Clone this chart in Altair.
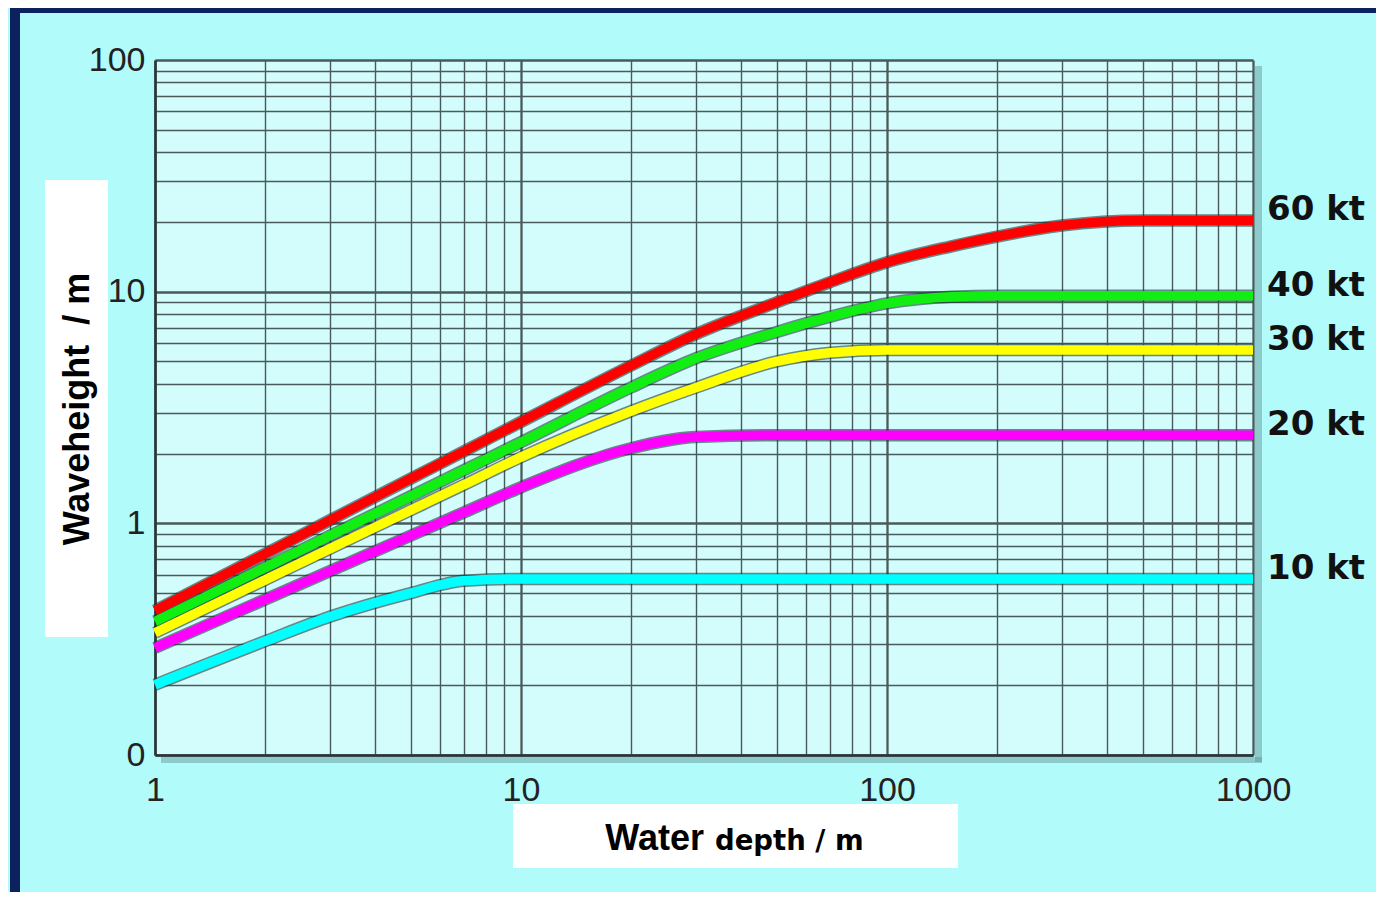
import altair as alt
import pandas as pd

# ---- data ----
depth = [1, 2, 3, 5, 7, 10, 20, 30, 50, 70, 100, 150, 200, 300, 500, 1000]
h_60kt = [0.42, 0.738, 1.03, 1.56, 2.05, 2.74, 4.8, 6.55, 9.0, 11.0, 13.4, 15.7, 17.3, 19.3, 20.3, 20.3]
h_40kt = [0.377, 0.644, 0.883, 1.31, 1.70, 2.24, 3.86, 5.15, 6.7, 7.8, 8.9, 9.5, 9.6, 9.6, 9.6, 9.6]
h_30kt = [0.337, 0.570, 0.776, 1.14, 1.47, 1.93, 3.05, 3.85, 5.0, 5.45, 5.6, 5.6, 5.6, 5.6, 5.6, 5.6]
h_20kt = [0.29, 0.469, 0.621, 0.885, 1.117, 1.43, 2.11, 2.36, 2.4, 2.4, 2.4, 2.4, 2.4, 2.4, 2.4, 2.4]
h_10kt = [0.201, 0.31, 0.395, 0.50, 0.565, 0.575, 0.575, 0.575, 0.575, 0.575, 0.575, 0.575, 0.575, 0.575, 0.575, 0.575]

speeds = ["10 kt", "20 kt", "30 kt", "40 kt", "60 kt"]
colors = ["#00ffff", "#ff00ff", "#ffff00", "#11ee11", "#ff0000"]
series = [h_10kt, h_20kt, h_30kt, h_40kt, h_60kt]

x_ticks = [round(m * 10 ** e, 4) for e in (0, 1, 2) for m in range(1, 10)] + [1000]
y_ticks = [round(m * 10 ** e, 4) for e in (-1, 0, 1) for m in range(1, 10)] + [100]

x_title_main = "Water"
x_title_rest = "depth / m"
y_title = "Waveheight\u00a0\u00a0/ m"

rows = []
for s, hs in zip(speeds, series):
    for d, h in zip(depth, hs):
        rows.append({"speed": s, "depth": d, "height": h})
df = pd.DataFrame(rows)
df_lab = pd.DataFrame({"speed": speeds, "depth": [depth[-1]] * len(speeds),
                       "height": [hs[-1] for hs in series]})
one = pd.DataFrame({"k": [0]})

FONT = "Liberation Sans"
W, H = 1098, 695

grid_w = {"condition": {"test": "indexof([0.1,1,10,100,1000], datum.value) >= 0", "value": 2.3}, "value": 1.4}

x_scale = alt.Scale(type="log", domain=[1, 1000], nice=False)
y_scale = alt.Scale(type="log", domain=[0.1, 100], nice=False)

x_axis = alt.Axis(values=x_ticks, grid=True, gridColor="#4a5959", gridWidth=grid_w,
                  ticks=False, domain=True, domainColor="#2a3535", domainWidth=2.5,
                  labelExpr="indexof([1,10,100,1000], datum.value) >= 0 ? toString(datum.value) : ''",
                  labelFont=FONT, labelFontSize=34, labelColor="#222222", labelPadding=18,
                  labelOverlap=False, labelFlush=False, title=None)
y_axis = alt.Axis(values=y_ticks, grid=True, gridColor="#4a5959", gridWidth=grid_w,
                  ticks=False, domain=True, domainColor="#2a3535", domainWidth=2.5,
                  labelExpr="datum.value == 0.1 ? '0' : (indexof([1,10,100], datum.value) >= 0 ? toString(datum.value) : '')",
                  labelFont=FONT, labelFontSize=34, labelColor="#222222", labelPadding=10,
                  labelOverlap=False, labelFlush=False, title=None)

base = alt.Chart(df).encode(
    x=alt.X("depth:Q", scale=x_scale, axis=x_axis),
    y=alt.Y("height:Q", scale=y_scale, axis=y_axis),
    detail="speed:N",
)

shadow = base.mark_line(strokeWidth=12.5, color="#1d3a3a", opacity=0.6, interpolate="monotone",
                        strokeCap="butt")
lines = base.mark_line(strokeWidth=9.5, interpolate="monotone", strokeCap="butt").encode(
    color=alt.Color("speed:N", scale=alt.Scale(domain=speeds, range=colors), legend=None)
)

labels = alt.Chart(df_lab).mark_text(font="DejaVu Sans", fontSize=34, fontWeight="bold", align="left",
                                     baseline="middle", dx=14, dy=-10, color="#111111").encode(
    x=alt.X("depth:Q", scale=x_scale),
    y=alt.Y("height:Q", scale=y_scale),
    text="speed:N",
)


def rect(x, x2, y, y2, color, opacity=1.0):
    return alt.Chart(one).mark_rect(color=color, opacity=opacity).encode(
        x=alt.value(x), x2=alt.value(x2), y=alt.value(y), y2=alt.value(y2))


# decorative frame / boxes / shadows (pixel positions relative to plot area)
navy_left = rect(-145, -135, -52, 832, "#0b225e")
navy_top = rect(-145, 1221, -52, -47, "#0b225e")
shadow_right = rect(1100, 1107, 6, 702, "#5f8f90", 0.45)
shadow_bottom = rect(6, 1107, 697, 703, "#5f8f90", 0.45)
box_y = rect(-110, -47, 120, 577, "white")
box_x = rect(358, 803, 744, 808, "white")

ytitle = alt.Chart(one).mark_text(text=y_title, font=FONT, fontSize=36, fontWeight="bold",
                                  angle=270, align="center", baseline="middle", color="black").encode(
    x=alt.value(-77), y=alt.value(349))
xtitle1 = alt.Chart(one).mark_text(text=x_title_main, font=FONT, fontSize=36, fontWeight="bold",
                                   align="right", baseline="alphabetic", color="black").encode(
    x=alt.value(549), y=alt.value(790))
xtitle2 = alt.Chart(one).mark_text(text=x_title_rest, font="DejaVu Sans", fontSize=27.5, fontWeight="bold",
                                   align="left", baseline="alphabetic", color="black").encode(
    x=alt.value(560), y=alt.value(790))

chart = alt.layer(
    shadow, lines, labels,
    navy_left, navy_top, shadow_right, shadow_bottom,
    box_y, box_x, ytitle, xtitle1, xtitle2,
).resolve_scale(x="shared", y="shared").properties(
    width=W, height=H,
    autosize=alt.AutoSizeParams(type="none"),
    padding={"left": 147, "top": 52, "right": 123, "bottom": 137},
).configure(background="#b2fbfb").configure_view(fill="#d3fcfc", stroke="transparent")

chart.save("out.html", embed_options={"renderer": "svg", "actions": False})
